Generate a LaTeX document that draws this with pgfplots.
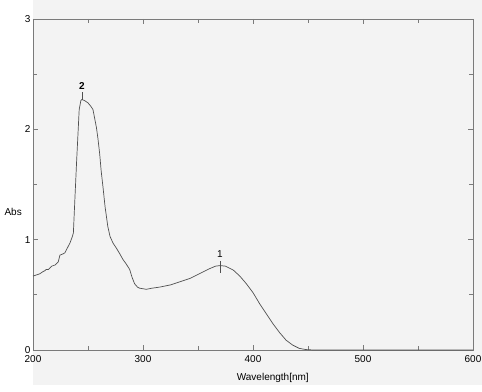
\documentclass[border=0pt]{standalone}
\usepackage{pgfplots}
\pgfplotsset{compat=1.18}
\usepackage{fontspec}
\setmainfont{Liberation Sans}
\definecolor{axgray}{HTML}{7A7A7A}
\definecolor{curve}{HTML}{505050}
\definecolor{bg}{HTML}{F3F3F3}
\begin{document}
\begin{tikzpicture}[x=1pt,y=1pt]
\path[use as bounding box] (-33,-41) rectangle (449,350);
\fill[white] (-33,-41) rectangle (449,350);
\fill[bg] (0,-35) rectangle (449,350);
\begin{axis}[
  at={(0,0)}, anchor=south west,
  scale only axis, width=440pt, height=331pt,
  xmin=200, xmax=600, ymin=0, ymax=3,
  xtick={200,300,400,500,600},
  minor xtick={250,350,450,550},
  ytick={0,1,2,3},
  minor ytick={0.5,1.5,2.5},
  tick align=inside,
  major tick length=5pt, minor tick length=4pt,
  axis line style={axgray, line width=0.8pt},
  tick style={axgray, line width=0.8pt},
  every tick label/.append style={font=\fontsize{10}{12}\selectfont, text=black},
  /pgf/number format/assume math mode=true,
  xticklabel style={yshift=-2pt},
  yticklabel style={xshift=1pt},
  clip=false,
  axis background/.style={fill=bg},
]
\addplot[curve, line width=0.7pt] coordinates {
(200,0.67) (203,0.68) (206,0.69) (209,0.71) (211,0.72) (212,0.73) (214,0.73)
(217,0.76) (220,0.77) (223,0.80) (224.5,0.86) (227,0.87) (229,0.88) (231,0.92)
(233.6,0.97) (235.5,1.02) (236.7,1.06) (238,1.35) (239.7,1.72) (241,1.98)
(242,2.18) (243.5,2.26) (244.5,2.27) (247,2.26) (250,2.24) (252.5,2.21)
(254.5,2.18) (257.6,2.02) (259,1.92) (260.6,1.78) (262,1.62) (263.6,1.48)
(265.5,1.30) (268,1.12) (270,1.03) (272.7,0.97) (276,0.92) (279,0.87)
(281.8,0.82) (284,0.79) (286,0.76) (287.9,0.73) (290,0.66) (292.4,0.60)
(295,0.57) (297,0.56) (300,0.555) (303,0.55) (308,0.56) (315,0.57)
(325,0.59) (334,0.62) (343,0.65) (352,0.695) (360,0.735) (366,0.76)
(370,0.765) (375,0.76) (382,0.725) (388,0.67) (394,0.60) (400,0.52)
(406,0.42) (412,0.33) (418,0.24) (424,0.16) (430,0.09) (436,0.045)
(442,0.015) (448,0.004) (455,0) (600,0)
};
\draw[curve, line width=0.7pt] (axis cs:244.5,2.27) -- (axis cs:244.5,2.34);
\node[font=\fontsize{10}{12}\selectfont\bfseries, inner sep=0pt] at (axis cs:244.5,2.39) {2};
\draw[curve, line width=0.7pt] (axis cs:370,0.70) -- (axis cs:370,0.81);
\node[font=\fontsize{10}{12}\selectfont, inner sep=0pt] at (axis cs:370,0.87) {1};
\node[font=\fontsize{10}{12}\selectfont, anchor=east, inner sep=0pt] at ([xshift=-11pt]axis cs:200,1.25) {Abs};
\node[font=\fontsize{10}{12}\selectfont, inner sep=0pt] at ([yshift=-28pt]axis cs:418,0) {Wavelength[nm]};
\end{axis}
\end{tikzpicture}
\end{document}
